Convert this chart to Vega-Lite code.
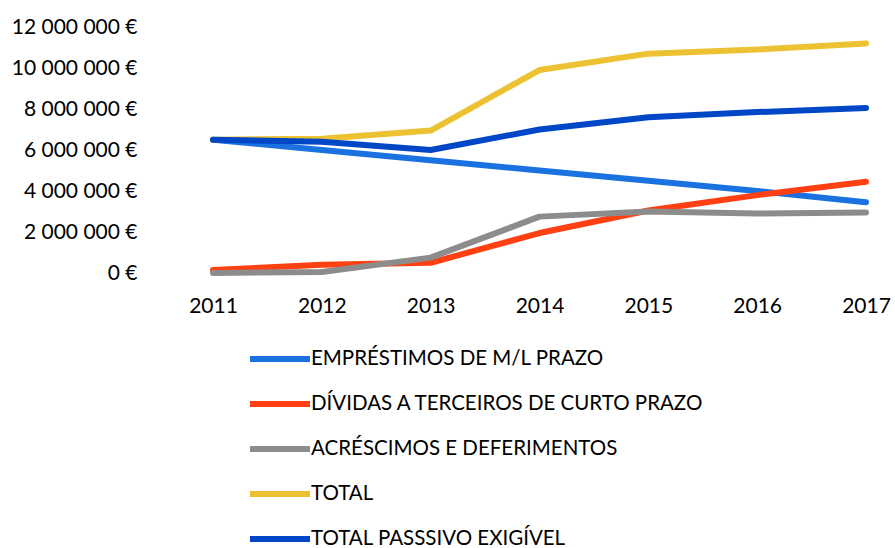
{
  "$schema": "https://vega.github.io/schema/vega-lite/v6.json",
  "width": 653,
  "height": 246,
  "autosize": {"type": "none"},
  "padding": {"left": 213, "top": 27, "right": 29, "bottom": 275},
  "background": "white",
  "config": {
    "view": {"stroke": null},
    "font": "Lato",
    "locale": {"number": {"decimal": ",", "thousands": " ", "grouping": [3], "currency": ["", " €"]}}
  },
  "data": {"values": [
    {"ano": "2011", "serie": "EMPRÉSTIMOS DE M/L PRAZO", "valor": 6500000},
    {"ano": "2012", "serie": "EMPRÉSTIMOS DE M/L PRAZO", "valor": 6000000},
    {"ano": "2013", "serie": "EMPRÉSTIMOS DE M/L PRAZO", "valor": 5500000},
    {"ano": "2014", "serie": "EMPRÉSTIMOS DE M/L PRAZO", "valor": 5000000},
    {"ano": "2015", "serie": "EMPRÉSTIMOS DE M/L PRAZO", "valor": 4500000},
    {"ano": "2016", "serie": "EMPRÉSTIMOS DE M/L PRAZO", "valor": 4000000},
    {"ano": "2017", "serie": "EMPRÉSTIMOS DE M/L PRAZO", "valor": 3450000},
    {"ano": "2011", "serie": "DÍVIDAS A TERCEIROS DE CURTO PRAZO", "valor": 150000},
    {"ano": "2012", "serie": "DÍVIDAS A TERCEIROS DE CURTO PRAZO", "valor": 400000},
    {"ano": "2013", "serie": "DÍVIDAS A TERCEIROS DE CURTO PRAZO", "valor": 500000},
    {"ano": "2014", "serie": "DÍVIDAS A TERCEIROS DE CURTO PRAZO", "valor": 1950000},
    {"ano": "2015", "serie": "DÍVIDAS A TERCEIROS DE CURTO PRAZO", "valor": 3050000},
    {"ano": "2016", "serie": "DÍVIDAS A TERCEIROS DE CURTO PRAZO", "valor": 3800000},
    {"ano": "2017", "serie": "DÍVIDAS A TERCEIROS DE CURTO PRAZO", "valor": 4450000},
    {"ano": "2011", "serie": "ACRÉSCIMOS E DEFERIMENTOS", "valor": 0},
    {"ano": "2012", "serie": "ACRÉSCIMOS E DEFERIMENTOS", "valor": 50000},
    {"ano": "2013", "serie": "ACRÉSCIMOS E DEFERIMENTOS", "valor": 750000},
    {"ano": "2014", "serie": "ACRÉSCIMOS E DEFERIMENTOS", "valor": 2750000},
    {"ano": "2015", "serie": "ACRÉSCIMOS E DEFERIMENTOS", "valor": 3000000},
    {"ano": "2016", "serie": "ACRÉSCIMOS E DEFERIMENTOS", "valor": 2900000},
    {"ano": "2017", "serie": "ACRÉSCIMOS E DEFERIMENTOS", "valor": 2950000},
    {"ano": "2011", "serie": "TOTAL", "valor": 6500000},
    {"ano": "2012", "serie": "TOTAL", "valor": 6550000},
    {"ano": "2013", "serie": "TOTAL", "valor": 6950000},
    {"ano": "2014", "serie": "TOTAL", "valor": 9900000},
    {"ano": "2015", "serie": "TOTAL", "valor": 10700000},
    {"ano": "2016", "serie": "TOTAL", "valor": 10900000},
    {"ano": "2017", "serie": "TOTAL", "valor": 11200000},
    {"ano": "2011", "serie": "TOTAL PASSSIVO EXIGÍVEL", "valor": 6500000},
    {"ano": "2012", "serie": "TOTAL PASSSIVO EXIGÍVEL", "valor": 6400000},
    {"ano": "2013", "serie": "TOTAL PASSSIVO EXIGÍVEL", "valor": 6000000},
    {"ano": "2014", "serie": "TOTAL PASSSIVO EXIGÍVEL", "valor": 7000000},
    {"ano": "2015", "serie": "TOTAL PASSSIVO EXIGÍVEL", "valor": 7600000},
    {"ano": "2016", "serie": "TOTAL PASSSIVO EXIGÍVEL", "valor": 7850000},
    {"ano": "2017", "serie": "TOTAL PASSSIVO EXIGÍVEL", "valor": 8050000}
  ]},
  "mark": {"type": "line", "strokeCap": "round", "strokeJoin": "round"},
  "encoding": {
    "x": {
      "field": "ano", "type": "ordinal",
      "scale": {"type": "point", "padding": 0},
      "axis": {"title": null, "labelAngle": 0, "domain": false, "ticks": false, "labelPadding": 22, "labelFontSize": 21, "labelColor": "#000", "labelFont": "Lato"}
    },
    "y": {
      "field": "valor", "type": "quantitative",
      "scale": {"domain": [0, 12000000], "nice": false},
      "axis": {"title": null, "values": [0, 2000000, 4000000, 6000000, 8000000, 10000000, 12000000], "format": "$,.0f", "grid": false, "domain": false, "ticks": false, "labelPadding": 76, "labelFontSize": 21, "labelColor": "#000", "labelFont": "Lato"}
    },
    "strokeWidth": {
      "field": "serie", "type": "nominal",
      "scale": {
        "domain": ["EMPRÉSTIMOS DE M/L PRAZO", "DÍVIDAS A TERCEIROS DE CURTO PRAZO", "ACRÉSCIMOS E DEFERIMENTOS", "TOTAL", "TOTAL PASSSIVO EXIGÍVEL"],
        "range": [6, 6, 6, 4.5, 6]
      },
      "legend": null
    },
    "color": {
      "field": "serie", "type": "nominal",
      "sort": ["EMPRÉSTIMOS DE M/L PRAZO", "DÍVIDAS A TERCEIROS DE CURTO PRAZO", "ACRÉSCIMOS E DEFERIMENTOS", "TOTAL", "TOTAL PASSSIVO EXIGÍVEL"],
      "scale": {
        "domain": ["EMPRÉSTIMOS DE M/L PRAZO", "DÍVIDAS A TERCEIROS DE CURTO PRAZO", "ACRÉSCIMOS E DEFERIMENTOS", "TOTAL", "TOTAL PASSSIVO EXIGÍVEL"],
        "range": ["#1a72e0", "#ff4012", "#8c8c8c", "#ecc232", "#0047c8"]
      },
      "legend": {
        "title": null,
        "orient": "none",
        "legendX": 34,
        "legendY": 299,
        "direction": "vertical",
        "symbolType": "stroke",
        "symbolSize": 3600,
        "symbolStrokeWidth": 6,
        "labelFontSize": 20.5,
        "labelFont": "Lato",
        "labelColor": "#000",
        "labelOffset": -2,
        "labelLimit": 0,
        "rowPadding": 0
      }
    }
  }
}
